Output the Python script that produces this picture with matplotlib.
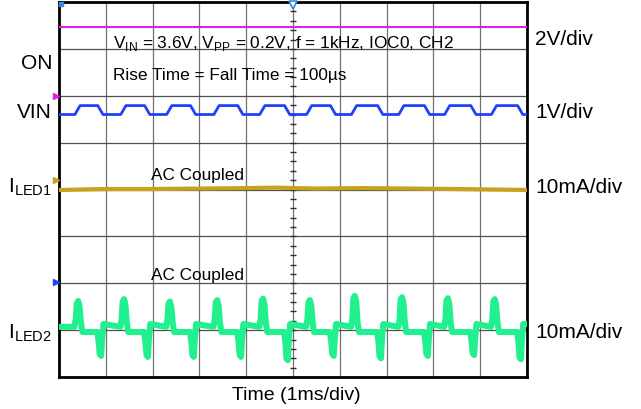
import matplotlib.pyplot as plt
import numpy as np

plt.rcParams['font.family'] = ['Liberation Sans', 'DejaVu Sans']
plt.rcParams['mathtext.fontset'] = 'custom'
plt.rcParams['mathtext.rm'] = 'Liberation Sans'

# screen is 10 x 8 divisions, time in ms (1ms/div), traces in divisions
n_xdiv, n_ydiv = 10, 8

on_level = 7.47                 # magenta ON trace
vin_low, vin_high = 5.60, 5.79  # VIN, 0.2Vpp at 1V/div

# edge times (ms)
rise_times = [0.41, 1.39, 2.37, 3.38, 4.36, 5.36, 6.32, 7.33, 8.31, 9.31]
fall_times = [0.88, 1.88, 2.86, 3.87, 4.87, 5.85, 6.86, 7.86, 8.85, 9.85]

# ILED2 spike extremes per cycle (div)
iled2_peaks = [1.64, 1.68, 1.63, 1.66, 1.69, 1.66, 1.75, 1.72, 1.70, 1.68]
iled2_troughs = [0.43, 0.41, 0.41, 0.41, 0.34, 0.43, 0.38, 0.43, 0.45, 0.36]
iled2_low_state = 1.07   # while VIN is low
iled2_high_state = 0.96  # while VIN is high

# yellow trace (AC coupled) drift read at a few times
iled1_t = [0.0, 1.0, 2.0, 3.0, 4.0, 4.6, 5.5, 6.5, 7.5, 8.5, 10.0]
iled1_v = [3.99, 4.01, 4.01, 4.02, 4.03, 4.04, 4.02, 4.03, 4.02, 4.01, 3.99]

# VIN trace
vin_t = [0.0]
vin_v = [vin_low]
for tr, tf in zip(rise_times, fall_times):
    vin_t += [tr - 0.07, tr + 0.04, tf - 0.05, tf + 0.06]
    vin_v += [vin_low, vin_high, vin_high, vin_low]
vin_t.append(10.0)
vin_v.append(vin_low)

# ILED2 trace
i2_t = [0.0]
i2_v = [iled2_low_state]
for tr, tf, pk, tg in zip(rise_times, fall_times, iled2_peaks, iled2_troughs):
    i2_t += [tr - 0.08, tr - 0.05, tr - 0.03, tr, tr + 0.03, tr + 0.06, tr + 0.09,
             tf - 0.06, tf - 0.03, tf - 0.01, tf + 0.02, tf + 0.04, tf + 0.07]
    i2_v += [iled2_low_state, 1.25, pk - 0.07, pk - 0.02, pk - 0.14, 1.15, iled2_high_state,
             iled2_high_state, 0.72, tg + 0.06, tg + 0.02, 0.80, 1.13]
i2_t.append(10.0)
i2_v.append(i2_v[-1])
i2_t = np.array(i2_t)
i2_v = np.array(i2_v)
keep = i2_t <= 10.0
i2_t, i2_v = i2_t[keep], i2_v[keep]

fig = plt.figure(figsize=(6.41, 4.10), dpi=100)
ax = fig.add_axes([59 / 641, 32 / 410, 468 / 641, 375 / 410])
ax.set_xlim(0, n_xdiv)
ax.set_ylim(0, n_ydiv)

for x in range(1, n_xdiv):
    ax.axvline(x, color='#707070', lw=0.9, zorder=1)
for y in range(1, n_ydiv):
    ax.axhline(y, color='#505050', lw=0.9, zorder=1)

# centre graticule ticks
cy = np.arange(0.2, n_ydiv, 0.2)
ax.plot(np.full(len(cy), 5.0), cy, ls='none', marker='_', ms=4, mew=1.0, color='#303030', zorder=2)

ax.plot([0, n_xdiv], [on_level, on_level], color='#e020e0', lw=1.5, zorder=3)
ax.plot(vin_t, vin_v, color='#2040ff', lw=2.0, zorder=3)
ax.plot(iled1_t, iled1_v, color='#c8a21c', lw=3.0, zorder=3)
ax.plot(i2_t, i2_v, color='#22f08e', lw=4.4, solid_joinstyle='round', zorder=3)

# channel markers on the left edge and trigger marker on top
ax.plot([-0.06], [5.99], marker='>', ms=4, color='#e020e0', clip_on=False, zorder=4)
ax.plot([-0.06], [4.2], marker='>', ms=4, color='#c8a21c', clip_on=False, zorder=4)
ax.plot([-0.06], [2.03], marker='>', ms=4, color='#2040ff', clip_on=False, zorder=4)
ax.plot([5.0], [7.93], marker='v', ms=6, mfc='white', mec='#3a8ad8', mew=1.2, clip_on=False, zorder=5)
ax.plot([0.04], [7.96], marker='s', ms=3, color='#3a8ad8', clip_on=False, zorder=5)

ax.set_xticks([])
ax.set_yticks([])
for s in ax.spines.values():
    s.set_linewidth(2.0)
    s.set_color('black')


def px(x, y):
    return x / 641, 1 - y / 410


note_fs = 12.4
side_fs = 15
txt = dict(transform=fig.transFigure, va='baseline')

fig.text(*px(113, 48), r'V$_\mathregular{IN}$ = 3.6V, V$_\mathregular{PP}$ = 0.2V, f = 1kHz, IOC0, CH2',
         fontsize=note_fs, **txt)
fig.text(*px(113, 80), 'Rise Time = Fall Time = 100µs', fontsize=note_fs, **txt)
fig.text(*px(151, 180), 'AC Coupled', fontsize=note_fs, **txt)
fig.text(*px(151, 280), 'AC Coupled', fontsize=note_fs, **txt)

fig.text(*px(52, 69), 'ON', fontsize=side_fs, ha='right', **txt)
fig.text(*px(52, 118), 'VIN', fontsize=side_fs, ha='right', **txt)
fig.text(*px(52, 192), r'I$_\mathregular{LED1}$', fontsize=side_fs, ha='right', **txt)
fig.text(*px(52, 338), r'I$_\mathregular{LED2}$', fontsize=side_fs, ha='right', **txt)

fig.text(*px(535, 45), '2V/div', fontsize=side_fs, **txt)
fig.text(*px(535, 118), '1V/div', fontsize=side_fs, **txt)
fig.text(*px(535, 193), '10mA/div', fontsize=side_fs, **txt)
fig.text(*px(535, 338), '10mA/div', fontsize=side_fs, **txt)

fig.text(*px(296, 400), 'Time (1ms/div)', fontsize=14, ha='center', **txt)

fig.savefig('out.png', dpi=100)
